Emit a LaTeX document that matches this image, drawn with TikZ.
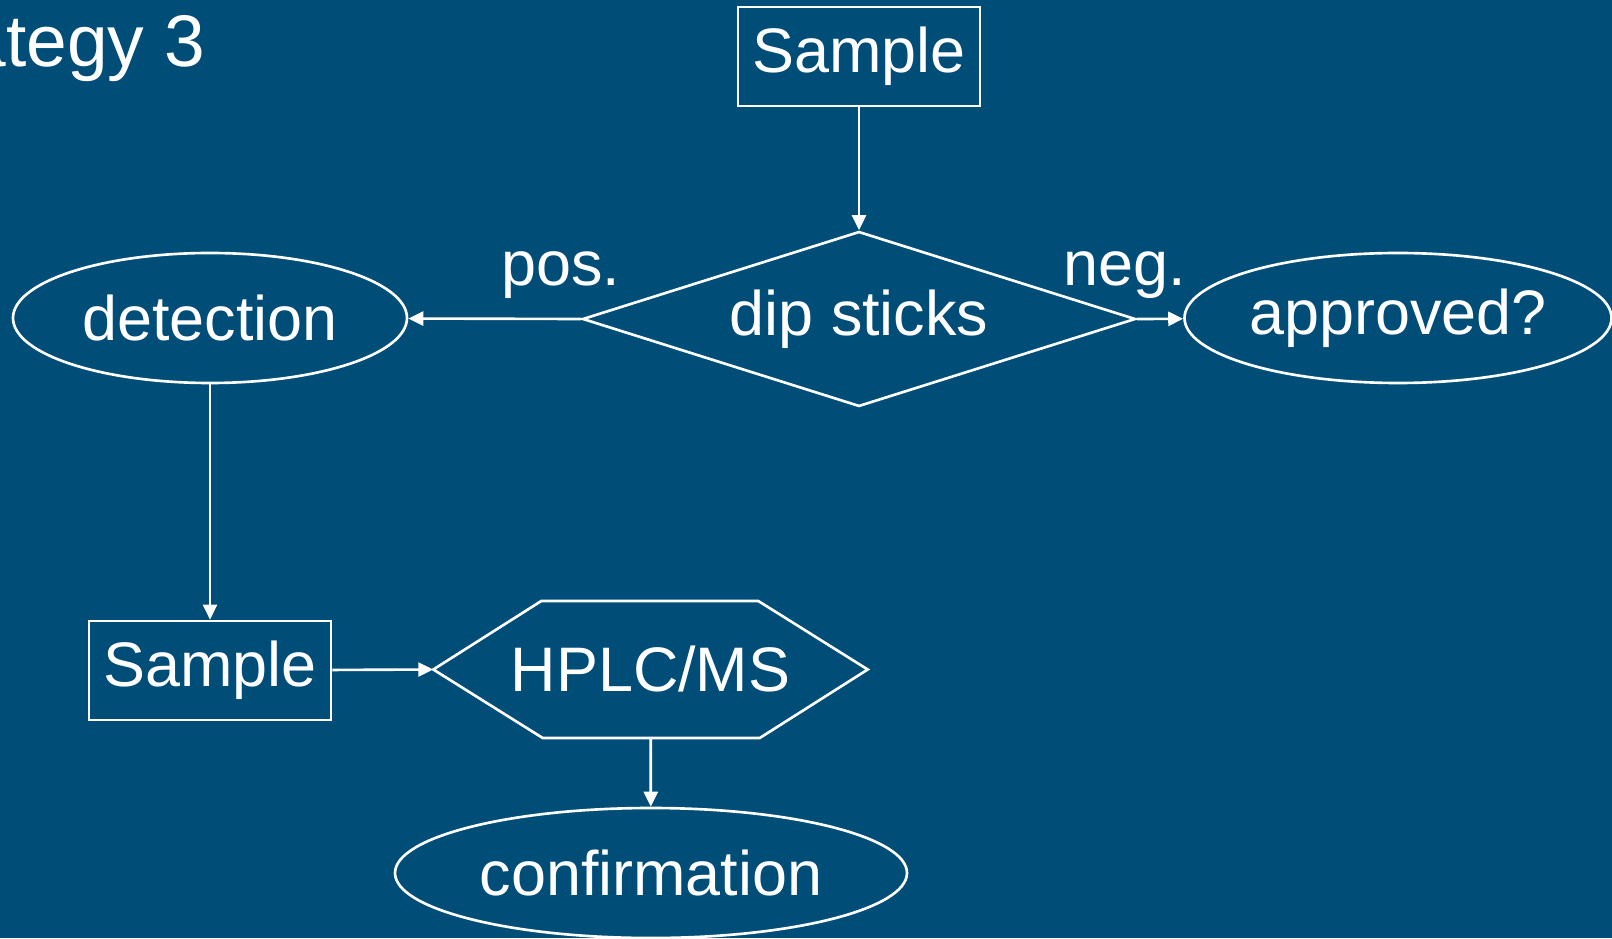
\documentclass[tikz,border=0pt]{standalone}
\usepackage{fontspec}
\setmainfont{Liberation Sans}
\usetikzlibrary{shapes.geometric,arrows.meta}
\definecolor{slidebg}{RGB}{0,77,120}
\begin{document}
\begin{tikzpicture}[
    every node/.style={text=white,font=\fontsize{17.9}{20}\selectfont},
    box/.style={draw=white,line width=0.75pt,minimum width=2.42cm,minimum height=0.99cm,inner sep=0pt},
    oval/.style={draw=white,line width=0.75pt,ellipse,minimum height=1.3cm,inner sep=0pt},
    link/.style={draw=white,line width=0.75pt,-{Triangle[length=0.15cm,width=0.14cm]}}
]
    \fill[slidebg] (0,0) rectangle (16.12,9.38);
    \useasboundingbox (0,0) rectangle (16.12,9.38);
    \node[anchor=base east,inner sep=0pt,font=\fontsize{20.8}{24}\selectfont] (title) at (2.06,8.71) {Strategy 3};

    \node[box] (sample1) at (8.59,8.815) {Sample};
    \node[draw=white,line width=0.75pt,diamond,shape aspect=3.16,minimum width=5.53cm,minimum height=1.75cm,inner sep=0pt] (dip) at (8.59,6.19) {dip sticks};
    \node[oval,minimum width=3.94cm] (detection) at (2.10,6.20) {detection};
    \node[oval,minimum width=4.27cm] (approved) at (13.98,6.20) {approved?};
    \node[box] (sample2) at (2.10,2.675) {Sample};
    \node[minimum width=4.33cm,minimum height=1.37cm,inner sep=0pt] (hplc) at (6.505,2.685) {HPLC/MS};
    \draw[white,line width=0.75pt] (hplc.west) -- ++(1.08,0.685) -- ++(2.17,0) -- (hplc.east) -- ++(-1.08,-0.685) -- ++(-2.17,0) -- cycle;
    \node[oval,minimum width=5.12cm] (confirm) at (6.51,0.65) {confirmation};

    \draw[link] (sample1) -- (dip);
    \draw[link] (dip.west) -- (detection);
    \draw[link] (dip.east) -- (approved);
    \draw[link] (detection) -- (sample2);
    \draw[link] (sample2) -- (hplc.west);
    \draw[link] (hplc) -- (confirm);
    \node[anchor=base] (pos) at (5.61,6.52) {pos.};
    \node[anchor=base] (neg) at (11.25,6.52) {neg.};
\end{tikzpicture}
\end{document}
